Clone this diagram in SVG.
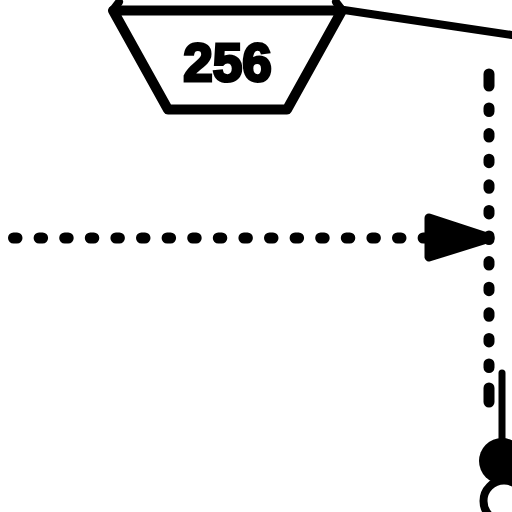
<svg xmlns="http://www.w3.org/2000/svg" width="512" height="512" viewBox="0 0 512 512">
<style>
.dot{fill:none;stroke:#000;stroke-width:11;stroke-linecap:round}
.solid{fill:none;stroke:#000;stroke-linejoin:round;stroke-linecap:round}
</style>
<rect width="512" height="512" fill="#fff"/>
<g id="connectors">
<path class="solid" stroke-width="8" d="M344 10L512 35"/>
<path class="solid" stroke-width="7" d="M502 373V445"/>
<path class="dot" stroke-dasharray="3.500 22.100" d="M13.500 238H430"/>
<path class="dot" d="M489 74V86" />
<path class="dot" stroke-dasharray="3.500 22.100" d="M489 108V372"/>
<path class="dot" d="M489 388V402"/>
<path d="M429 218L490 238L429 257Z" fill="#000" stroke="#000" stroke-width="9" stroke-linejoin="round"/>
</g>
<g id="node-256">
<path class="solid" stroke-width="10" d="M113 10.500H342L287 109.500H168Z"/>
<path class="solid" stroke-width="8" d="M113 10L119 2M342 10L336 2"/>
<text x="227.500" y="81" text-anchor="middle" font-family="Liberation Sans, Arial, sans-serif" font-size="53" font-weight="700" stroke="#000" stroke-width="3">256</text>
</g>
<g id="node-junction">
<circle cx="502" cy="461" r="23" fill="#000"/>
<circle cx="504" cy="501" r="20.500" fill="#fff" stroke="#000" stroke-width="8"/>
</g>
</svg>
